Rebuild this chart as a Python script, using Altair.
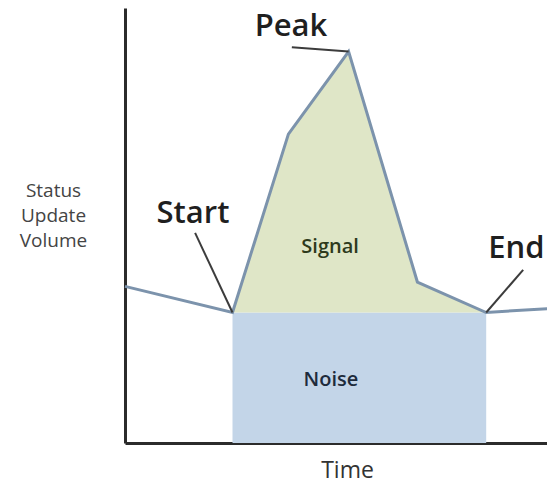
import altair as alt
import pandas as pd

# ---- data ----
time = [0, 25, 38, 52, 68, 84, 100]
volume = [36, 30, 71, 90, 37, 30, 31]
noise_level = 30
event_start = 25
event_end = 84

callout_names = ["Peak", "Start", "End"]
callout_text_x = [38.6, 15.8, 91.0]
callout_text_y = [93.5, 50.6, 42.5]
callout_from_x = [38.8, 16.3, 92.6]
callout_from_y = [91.0, 48.3, 39.8]
callout_to_x = [52, 25, 84]
callout_to_y = [90, 30, 30]

region_names = ["Signal", "Noise"]
region_x = [47.7, 47.9]
region_y = [45.1, 14.5]
region_colors = ["#2e3a1c", "#1e2b3c"]

# ---- tables ----
line_df = pd.DataFrame({"time": time, "volume": volume})
signal_df = line_df[(line_df.time >= event_start) & (line_df.time <= event_end)].copy()
signal_df["base"] = noise_level
noise_df = pd.DataFrame({"x0": [event_start], "x1": [event_end], "y0": [0], "y1": [noise_level]})
callout_df = pd.DataFrame({
    "name": callout_names, "tx": callout_text_x, "ty": callout_text_y,
    "fx": callout_from_x, "fy": callout_from_y, "ex": callout_to_x, "ey": callout_to_y,
})
region_df = pd.DataFrame({"name": region_names, "x": region_x, "y": region_y, "c": region_colors})

FONT = "Open Sans"
# the page leaves 539px for the chart; the visible time window stops a little before the last point
XS = alt.Scale(domain=[0, 98.14], nice=False, zero=False, padding=0)
YS = alt.Scale(domain=[0, 100], nice=False, zero=False, padding=0)
XA = alt.Axis(domain=True, domainColor="#2b2b2b", domainWidth=3, ticks=False, labels=False,
              grid=False, title="Time", titleFont=FONT, titleFontSize=23, titleFontWeight="normal",
              titleColor="#333333", titleX=222, titleY=34, titleAlign="center",
              titleBaseline="alphabetic")
YA = alt.Axis(domain=True, domainColor="#2b2b2b", domainWidth=3, ticks=False, labels=False,
              grid=False, title=["Status", "Update", "Volume"], titleFont=FONT, titleFontSize=19,
              titleFontWeight="normal", titleColor="#444444", titleAngle=0, titleAlign="center",
              titleBaseline="top", titleX=-72, titleY=173, titleLineHeight=25)

noise = alt.Chart(noise_df).mark_rect(color="#c3d5e8").encode(
    x=alt.X("x0:Q", scale=XS, axis=XA), x2="x1:Q",
    y=alt.Y("y0:Q", scale=YS, axis=YA), y2="y1:Q",
)

signal = alt.Chart(signal_df).mark_area(color="#dfe6c7", opacity=1).encode(
    x=alt.X("time:Q", scale=XS, axis=XA),
    y=alt.Y("volume:Q", scale=YS, axis=YA), y2="base:Q",
)

line = alt.Chart(line_df).mark_line(color="#7c93ac", strokeWidth=3).encode(
    x=alt.X("time:Q", scale=XS, axis=XA),
    y=alt.Y("volume:Q", scale=YS, axis=YA),
)

callout_lines = alt.Chart(callout_df).mark_rule(color="#3c3c3c", strokeWidth=2).encode(
    x=alt.X("fx:Q", scale=XS, axis=XA), x2="ex:Q",
    y=alt.Y("fy:Q", scale=YS, axis=YA), y2="ey:Q",
)

callout_text = alt.Chart(callout_df).mark_text(
    font=FONT, fontSize=31, fontWeight=600, color="#1f1f1f", align="center", baseline="alphabetic"
).encode(
    x=alt.X("tx:Q", scale=XS, axis=XA),
    y=alt.Y("ty:Q", scale=YS, axis=YA),
    text="name:N",
)

region_text = alt.Chart(region_df).mark_text(
    font=FONT, fontSize=20, fontWeight=600, align="center", baseline="middle"
).encode(
    x=alt.X("x:Q", scale=XS, axis=XA),
    y=alt.Y("y:Q", scale=YS, axis=YA),
    text="name:N",
    color=alt.Color("c:N", scale=None),
)

chart = alt.layer(noise, signal, line, callout_lines, callout_text, region_text).properties(
    width=422, height=435,
    autosize=alt.AutoSizeParams(type="none"),
    padding={"left": 117, "top": 0, "right": 0, "bottom": 40},
).configure_view(stroke=None)

chart.save("out.html", embed_options={"renderer": "svg", "actions": False})
